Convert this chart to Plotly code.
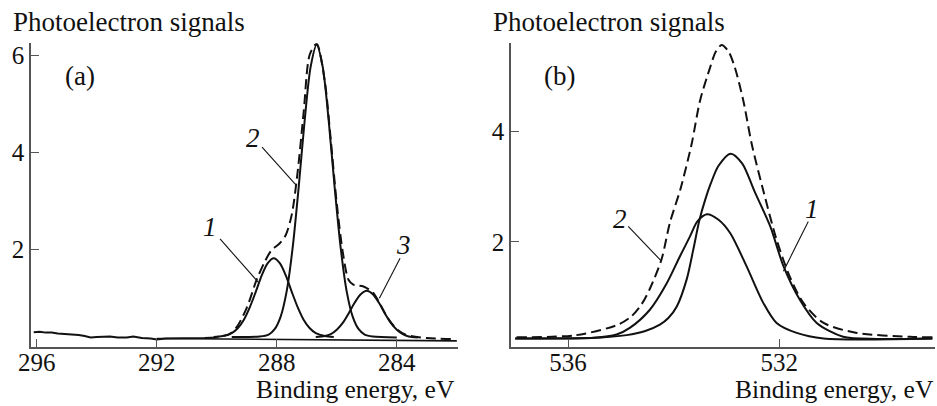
import plotly.graph_objects as go

W, H = 937, 406

# ---------------- Panel (a): C1s ----------------
a_noise_x = [296.1, 295.9, 295.7, 295.5, 295.3, 295.0, 294.8, 294.6, 294.4, 294.2, 294.0, 293.8,
             293.56, 293.3, 293.0, 292.78, 292.5, 292.2, 292.0, 291.7, 291.4, 291.0, 290.7, 290.4, 290.0]
a_noise_y = [0.30, 0.31, 0.29, 0.29, 0.27, 0.26, 0.25, 0.24, 0.22, 0.19, 0.20, 0.20,
             0.21, 0.19, 0.19, 0.21, 0.18, 0.17, 0.15, 0.17, 0.17, 0.17, 0.18, 0.18, 0.19]

a_base_x = [292.0, 282.0]
a_base_y = [0.17, 0.12]

a_main_x = [284.0, 284.8, 285.07, 285.27, 285.47, 285.67, 285.87, 286.07, 286.27, 286.47, 286.67,
            286.87, 287.07, 287.27, 287.47, 287.67, 287.87, 288.07, 288.27, 288.57, 289.5]
a_main_y = [0.19, 0.21, 0.25, 0.36, 0.62, 1.14, 2.04, 3.28, 4.66, 5.77, 6.22,
            5.77, 4.66, 3.28, 2.04, 1.14, 0.62, 0.36, 0.25, 0.21, 0.20]

a_p1_x = [286.1, 286.4, 286.7, 286.9, 287.1, 287.3, 287.5, 287.7, 287.9, 288.1,
          288.3, 288.5, 288.7, 288.9, 289.1, 289.3, 289.5, 289.8, 290.1]
a_p1_y = [0.20, 0.22, 0.28, 0.38, 0.55, 0.81, 1.13, 1.47, 1.72, 1.82,
          1.72, 1.47, 1.13, 0.81, 0.55, 0.38, 0.28, 0.22, 0.20]

a_p3_x = [283.3, 283.6, 283.8, 284.0, 284.2, 284.4, 284.6, 284.8, 285.0,
          285.2, 285.4, 285.6, 285.8, 286.0, 286.2, 286.4, 286.7]
a_p3_y = [0.19, 0.21, 0.26, 0.35, 0.49, 0.69, 0.91, 1.08, 1.15,
          1.08, 0.91, 0.69, 0.49, 0.35, 0.26, 0.22, 0.20]

a_env_x = [282.2, 283.0, 283.67, 284.0, 284.33, 284.6, 284.8, 285.11, 285.3, 285.45, 285.61,
           285.8, 286.0, 286.2, 286.4, 286.67, 286.9, 287.1, 287.3, 287.5, 287.7, 287.9,
           288.1, 288.22, 288.4, 288.67, 289.0, 289.33, 289.6, 290.0]
a_env_y = [0.16, 0.18, 0.24, 0.36, 0.62, 0.93, 1.12, 1.24, 1.26, 1.28, 1.38,
           1.95, 2.95, 4.26, 5.47, 6.24, 6.02, 4.85, 3.62, 2.72, 2.30, 2.13,
           2.03, 1.95, 1.75, 1.38, 0.80, 0.41, 0.25, 0.20]

a_xticks = [296, 292, 288, 284]
a_yticks = [2, 4, 6]

# ---------------- Panel (b): O1s ----------------
b_c1_x = [529.1, 530.15, 530.79, 531.29, 531.61, 531.92, 532.17, 532.47, 532.7, 532.92,
          533.15, 533.30, 533.40, 533.51, 533.63, 533.75, 533.94, 534.1, 534.26, 534.55,
          534.89, 535.5, 537.0]
b_c1_y = [0.25, 0.24, 0.28, 0.53, 0.95, 1.56, 2.28, 2.92, 3.42, 3.60,
          3.38, 3.05, 2.77, 2.40, 1.85, 1.33, 0.83, 0.62, 0.50, 0.38,
          0.31, 0.26, 0.25]

b_c2_x = [529.1, 531.16, 531.67, 532.05, 532.30, 532.62, 532.93, 533.15, 533.37,
          533.55, 533.69, 533.88, 534.13, 534.45, 534.83, 535.08, 535.5, 537.0]
b_c2_y = [0.25, 0.25, 0.35, 0.53, 0.89, 1.56, 2.16, 2.40, 2.50,
          2.37, 2.10, 1.74, 1.25, 0.77, 0.44, 0.32, 0.26, 0.25]

b_env_x = [529.1, 529.52, 530.53, 531.16, 531.54, 531.80, 532.05, 532.31, 532.52, 532.68,
           532.84, 532.96, 533.09, 533.2, 533.31, 533.5, 533.66, 533.87, 534.07, 534.23,
           534.45, 534.6, 534.8, 535.05, 535.84, 537.0]
b_env_y = [0.27, 0.28, 0.35, 0.53, 0.89, 1.37, 2.04, 2.96, 3.77, 4.56,
           5.16, 5.45, 5.57, 5.45, 5.16, 4.56, 3.77, 2.96, 2.35, 1.68,
           1.15, 0.88, 0.65, 0.50, 0.31, 0.27]

b_xticks = [536, 532]
b_yticks = [2, 4]

FONT = "'Liberation Serif', 'Times New Roman', Times, serif"
INK = "#111111"
AX = "#555555"


def px(x):
    return x / W


def py(y):
    return 1 - y / H


fig = go.Figure()

solid = dict(color=INK, width=2, shape="spline", smoothing=0.8)
dashed = dict(color=INK, width=2, shape="spline", smoothing=0.8, dash="10px,5px")

for xs, ys, ln in [
    (a_noise_x, a_noise_y, dict(color=INK, width=2)),
    (a_base_x, a_base_y, dict(color=INK, width=1.6)),
    (a_env_x, a_env_y, dashed),
    (a_main_x, a_main_y, solid),
    (a_p1_x, a_p1_y, solid),
    (a_p3_x, a_p3_y, solid),
]:
    fig.add_trace(go.Scatter(x=xs, y=ys, mode="lines", line=ln, xaxis="x", yaxis="y",
                             showlegend=False, hoverinfo="skip"))

for xs, ys, ln in [
    (b_env_x, b_env_y, dashed),
    (b_c1_x, b_c1_y, solid),
    (b_c2_x, b_c2_y, solid),
]:
    fig.add_trace(go.Scatter(x=xs, y=ys, mode="lines", line=ln, xaxis="x2", yaxis="y2",
                             showlegend=False, hoverinfo="skip"))

ydom = [py(346.7), py(43.3)]
common_axis = dict(showline=True, linecolor=AX, linewidth=1.5, ticks="inside", ticklen=8,
                   tickwidth=1.2, tickcolor=AX, showgrid=False, zeroline=False,
                   automargin=False,
                   tickfont=dict(family=FONT, size=25, color=INK))

fig.update_layout(
    template="none",
    width=W, height=H,
    margin=dict(l=0, r=0, t=0, b=0, pad=0),
    paper_bgcolor="white", plot_bgcolor="white",
    font=dict(family=FONT, size=25, color=INK),
    xaxis=dict(domain=[px(31), px(458)], range=[296.19, 281.96], tickvals=a_xticks,
               anchor="y", ticklabelstandoff=-7, **common_axis),
    yaxis=dict(domain=ydom, range=[0, 6.25], tickvals=a_yticks, anchor="x", **common_axis),
    xaxis2=dict(domain=[px(511), px(935)], range=[537.08, 529.05], tickvals=b_xticks,
                anchor="y2", ticklabelstandoff=-7, **common_axis),
    yaxis2=dict(domain=ydom, range=[0.1, 5.6], tickvals=b_yticks, anchor="x2", **common_axis),
)

texts = [
    ("Photoelectron signals", 12, 22, "left", 27),
    ("Photoelectron signals", 492, 22, "left", 27),
    ("Binding energy, eV", 456, 389.5, "right", 25.5),
    ("Binding energy, eV", 935, 389.5, "right", 25.5),
    ("(a)", 80, 76, "center", 27),
    ("(b)", 559, 76, "center", 27),
]
for t, x, y, xa, fs in texts:
    fig.add_annotation(text=t, x=px(x), y=py(y), xref="paper", yref="paper",
                       xanchor=xa, yanchor="middle", showarrow=False, borderpad=0,
                       font=dict(family=FONT, size=fs, color=INK))

# curve labels (italic numbers) and leader lines, in data coordinates
labels = [
    ("1", 290.22, 2.46, "x", "y", (289.89, 2.22), (288.62, 1.33)),
    ("2", 288.79, 4.29, "x", "y", (288.49, 4.11), (287.37, 3.34)),
    ("3", 283.79, 2.09, "x", "y", (283.89, 1.82), (284.58, 1.00)),
    ("2", 535.01, 2.41, "x2", "y2", (534.86, 2.28), (534.23, 1.65)),
    ("1", 531.38, 2.59, "x2", "y2", (531.45, 2.37), (531.92, 1.47)),
]
for t, x, y, xr, yr, p0, p1 in labels:
    fig.add_annotation(text="<i>%s</i>" % t, x=x, y=y, xref=xr, yref=yr, showarrow=False,
                       xanchor="center", yanchor="middle", borderpad=0,
                       font=dict(family=FONT, size=27, color=INK))
    fig.add_shape(type="line", xref=xr, yref=yr, x0=p0[0], y0=p0[1], x1=p1[0], y1=p1[1],
                  line=dict(color=INK, width=1.1))

fig.write_html("out.html")
